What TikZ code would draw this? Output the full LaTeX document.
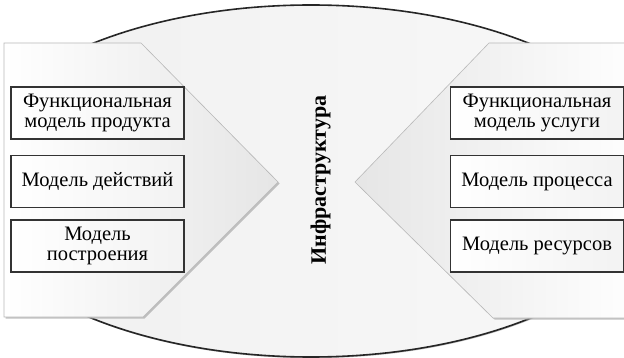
\documentclass[tikz,border=0pt]{standalone}
\usepackage{fontspec}
\setmainfont{Liberation Serif}
\usetikzlibrary{shadows}
\begin{document}
\begin{tikzpicture}[x=1pt,y=-1pt,
  panel/.style={draw=gray!55, line width=0.6pt,
    drop shadow={shadow xshift=1.5pt, shadow yshift=-1.5pt, fill=gray!60, opacity=0.8}},
  mbox/.style={draw=black!80, line width=1.1pt, left color=white, right color=gray!10,
    minimum width=173pt, minimum height=52pt, align=center,
    font=\fontsize{20.5}{20}\selectfont, inner sep=1pt},
]
\useasboundingbox (0,0) rectangle (624,358);
\clip (0,0) rectangle (624,358);
\fill[white] (0,0) rectangle (624,358);
% big ellipse
\begin{scope}
\clip (4,0) rectangle (624,358);
\draw[line width=1.6pt, draw=black!85, left color=gray!12, right color=gray!5,
  drop shadow={shadow xshift=0.8pt, shadow yshift=-1.2pt, fill=gray!70, opacity=0.7}]
  (311,181) ellipse [x radius=350, y radius=176];
\end{scope}
% left panel
\path[panel, left color=white, right color=gray!20]
  (4,43) -- (141,43) -- (278,182) -- (143,317) -- (4,317) -- cycle;
% right panel
\path[panel, left color=gray!20, right color=white]
  (489,43) -- (640,43) -- (640,318) -- (493,318) -- (355,182) -- cycle;
% boxes
\node[mbox] (l1) at (97.5,113) {Функциональная\\модель продукта};
\node[mbox] (l2) at (97.5,181.5) {Модель действий};
\node[mbox] (l3) at (97.5,246) {Модель\\построения};
\node[mbox] (r1) at (537,113) {Функциональная\\модель услуги};
\node[mbox] (r2) at (537,181.5) {Модель процесса};
\node[mbox] (r3) at (537,246) {Модель ресурсов};
% centre label
\node[rotate=90, font=\bfseries\fontsize{22}{22}\selectfont] (infra) at (320.5,180) {Инфраструктура};
\end{tikzpicture}
\end{document}
